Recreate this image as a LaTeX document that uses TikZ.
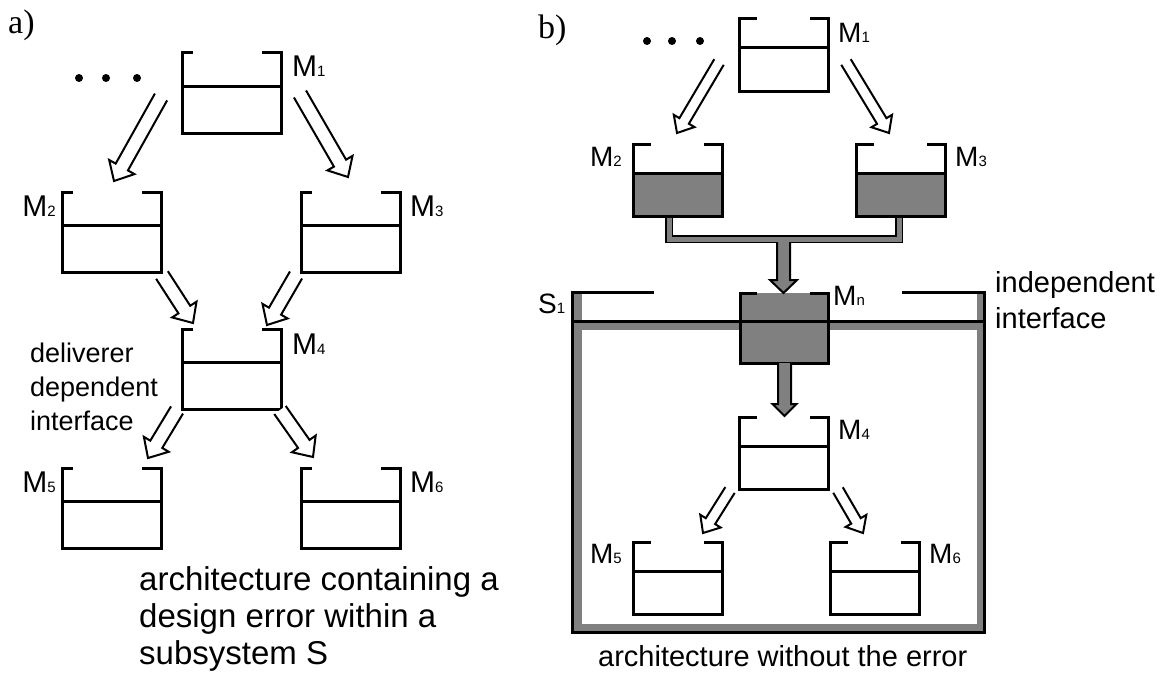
\documentclass[tikz,border=0pt]{standalone}
\usepackage{fontspec}
\setmainfont{Liberation Sans}
\newfontfamily\serifpart{Liberation Serif}
\usetikzlibrary{calc}

\definecolor{fillgray}{HTML}{808080}

\tikzset{
  boxline/.style={line width=3pt},
  hollow/.style={line width=2pt, fill=white},
  shaded/.style={line width=2pt, fill=fillgray},
  pipe/.style={line width=1.6pt, double=fillgray, double distance=5pt},
  band/.style={line width=8pt, fillgray},
  mlabela/.style={inner sep=0pt, font=\fontsize{30}{30}\selectfont},
  mlabelb/.style={inner sep=0pt, font=\fontsize{28}{28}\selectfont},
  remark/.style={inner sep=0pt, align=left},
}

% M with its small index on the baseline
\newcommand{\mname}[2][M]{#1{\fontsize{15}{15}\selectfont #2}}

% open-topped module: corner, width, upper part, height, left tick, right tick
\newcommand{\modbox}[6]{%
  \draw[boxline] ($(#1)+(#5,0)$) -- (#1) -- ++(0,#4) -- ++(#2,0) -- ++(0,-#4) -- ++(-#6,0);
  \draw[boxline] ($(#1)+(0,#3)$) -- ++(#2,0);
}

% block arrow: style, tail, tip, half shaft, half head, head length
\newcommand{\blockarrow}[6]{%
  \coordinate (hd) at ($(#3)!#6!(#2)$);
  \draw[#1] ($(#2)!#4!90:(#3)$) -- ($(hd)!#4!90:(#3)$) -- ($(hd)!#5!90:(#3)$) -- (#3)
    -- ($(hd)!#5!-90:(#3)$) -- ($(hd)!#4!-90:(#3)$) -- ($(#2)!#4!-90:(#3)$);
}

\begin{document}
\begin{tikzpicture}[x=1pt,y=-1pt]
  \useasboundingbox (0,0) rectangle (1169,677);

  %%% a) the architecture with the error
  \node[anchor=base west, inner sep=0pt, font=\serifpart\fontsize{34}{34}\selectfont] (tag a) at (8,34) {a)};
  \foreach \x in {79,106,137}
    \fill (\x,78) circle (4pt);

  % modules
  \foreach \n/\x/\y in {1/182/53,2/62/192,3/301/192,4/182/329,5/62/468,6/301/468}
  {
    \coordinate (a\n) at (\x,\y);
    \modbox{a\n}{99}{33}{80}{11}{19}
  }
  % their names
  \foreach \n/\x/\y/\side in {1/292/77/west,2/56/216/east,3/410/216/west,4/292/354/west,5/56/492/east,6/410/492/west}
    \node[mlabela, anchor=base \side] (na\n) at (\x,\y) {\mname{\n}};

  % the arrows
  \coordinate (a12t) at (161,97);  \coordinate (a12h) at (114,181);
  \coordinate (a13t) at (300,94);  \coordinate (a13h) at (348,177);
  \coordinate (a24t) at (162,275); \coordinate (a24h) at (193,323);
  \coordinate (a34t) at (296,275); \coordinate (a34h) at (267,325);
  \coordinate (a45t) at (177,410); \coordinate (a45h) at (148,458);
  \coordinate (a46t) at (280,410); \coordinate (a46h) at (313,457);
  \foreach \e in {12,13,24,34,45,46}
  {
    \blockarrow{hollow}{a\e t}{a\e h}{7pt}{14.5pt}{16pt}
  }

  % (base of a multi-line node = its last line)
  \node[remark, anchor=base west, font=\fontsize{27}{34}\selectfont] (dep) at (30,430)
    {deliverer\\dependent\\interface};
  \node[remark, anchor=base west, font=\fontsize{33}{37}\selectfont] (capa) at (139,664)
    {architecture containing a\\design error within a\\subsystem S};

  %%% b) the architecture without the error
  \node[anchor=base west, inner sep=0pt, font=\serifpart\fontsize{34}{34}\selectfont] (tag b) at (538,39) {b)};
  \foreach \x in {647,672,700}
    \fill (\x,41) circle (4pt);

  % subsystem frame with its grey lining
  \draw[band] (578,292) -- (578,628) -- (980.5,628) -- (980.5,292);
  \draw[band] (578,326) -- (980.5,326);
  \coordinate (s1) at (572.5,292);
  \draw[boxline] (654,292) -- (s1) -- (572.5,632) -- (984,632) -- (984,292) -- (902,292);

  % the pipe collecting M2 and M3
  \draw[pipe] (669,214) -- (669,239) -- (899,239) -- (899,214);

  % shaded modules
  \foreach \n/\x in {2/633,3/856}
  {
    \coordinate (b\n) at (\x,144);
    \fill[fillgray] ($(b\n)+(0,29)$) rectangle ++(89,43);
    \modbox{b\n}{89}{29}{72}{18}{18}
  }
  \coordinate (bn) at (740,293);
  \fill[fillgray] (bn) rectangle ++(88,70);
  \modbox{bn}{88}{28}{70}{17}{18}
  \draw[boxline] (572.5,321) -- (984,321);

  % plain modules
  \foreach \n/\x/\y in {1/739/19,4/739/417,5/633/542,6/830/542}
  {
    \coordinate (b\n) at (\x,\y);
    \modbox{b\n}{89}{29}{72}{18}{18}
  }

  % names
  \foreach \n/\x/\y/\side in {1/838/42/west,2/622/166/east,3/955/166/west,n/833/305/west,4/838/439/west,5/622/563/east,6/929/563/west}
    \node[mlabelb, anchor=base \side] (nb\n) at (\x,\y) {\mname{\n}};
  \node[mlabelb, anchor=base west] (ns1) at (538,313) {\mname[S]{1}};

  % arrows
  \coordinate (b12t) at (719,62);  \coordinate (b12h) at (677,133);
  \coordinate (b13t) at (846,62);  \coordinate (b13h) at (889,133);
  \coordinate (b45t) at (730,490); \coordinate (b45h) at (703,533);
  \coordinate (b46t) at (838,490); \coordinate (b46h) at (863,533);
  \foreach \e in {12,13,45,46}
  {
    \blockarrow{hollow}{b\e t}{b\e h}{5.5pt}{12pt}{14pt}
  }
  \coordinate (pipe) at (783.5,242); \coordinate (pipeh) at (783.5,293);
  \blockarrow{shaded}{pipe}{pipeh}{6.5pt}{13.5pt}{13pt}
  \coordinate (bn4t) at (784.5,363); \coordinate (bn4h) at (784.5,416);
  \blockarrow{shaded}{bn4t}{bn4h}{6.5pt}{12pt}{12pt}

  \node[remark, anchor=base west, font=\fontsize{29}{36}\selectfont] (indep) at (995,328)
    {independent\\interface};
  \node[remark, anchor=base west, font=\fontsize{29}{29}\selectfont] (capb) at (598,666)
    {architecture without the error};
\end{tikzpicture}
\end{document}
